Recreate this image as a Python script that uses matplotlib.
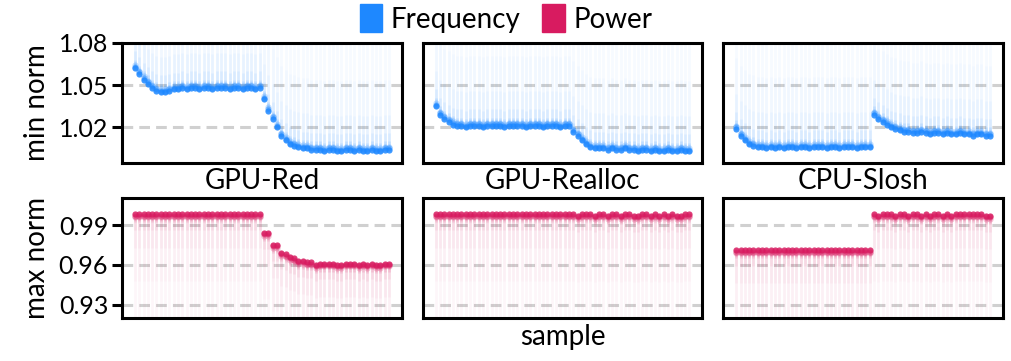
import matplotlib.pyplot as plt
import numpy as np
from matplotlib.patches import Patch

plt.rcParams['font.family'] = ['Lato', 'DejaVu Sans']

names = ['GPU-Red', 'GPU-Realloc', 'CPU-Slosh']
legend_labels = ['Frequency', 'Power']

# lower edge of the frequency band (min norm), 60 samples per run
freq_red = [1.062, 1.058, 1.054, 1.051, 1.048, 1.046, 1.045, 1.045, 1.046, 1.047,
            1.047, 1.048, 1.047, 1.048, 1.048, 1.047, 1.048, 1.048, 1.047, 1.048,
            1.048, 1.048, 1.047, 1.048, 1.048, 1.047, 1.048, 1.048, 1.047, 1.048,
            1.040, 1.032, 1.026, 1.020, 1.014, 1.011, 1.008, 1.007, 1.006, 1.005,
            1.005, 1.004, 1.004, 1.004, 1.003, 1.004, 1.004, 1.003, 1.003, 1.004,
            1.004, 1.003, 1.004, 1.003, 1.003, 1.004, 1.003, 1.003, 1.004, 1.004]
freq_realloc = [1.035, 1.029, 1.026, 1.024, 1.022, 1.021, 1.021, 1.020, 1.021, 1.021,
                1.021, 1.020, 1.021, 1.021, 1.021, 1.021, 1.020, 1.021, 1.021, 1.021,
                1.021, 1.020, 1.021, 1.021, 1.021, 1.020, 1.021, 1.021, 1.021, 1.020,
                1.021, 1.021, 1.017, 1.014, 1.011, 1.008, 1.006, 1.005, 1.005, 1.005,
                1.004, 1.005, 1.004, 1.004, 1.005, 1.004, 1.004, 1.003, 1.004, 1.004,
                1.003, 1.004, 1.003, 1.003, 1.004, 1.003, 1.003, 1.004, 1.003, 1.003]
freq_slosh = [1.019, 1.014, 1.011, 1.008, 1.007, 1.006, 1.006, 1.005, 1.006, 1.005,
              1.006, 1.005, 1.006, 1.006, 1.005, 1.006, 1.006, 1.005, 1.006, 1.006,
              1.006, 1.005, 1.006, 1.006, 1.005, 1.006, 1.006, 1.006, 1.005, 1.006,
              1.006, 1.006, 1.029, 1.026, 1.024, 1.022, 1.020, 1.019, 1.018, 1.017,
              1.017, 1.016, 1.016, 1.017, 1.016, 1.015, 1.016, 1.016, 1.015, 1.016,
              1.015, 1.015, 1.016, 1.015, 1.015, 1.014, 1.015, 1.015, 1.014, 1.014]

# upper edge of the power band (max norm)
power_red = [0.998, 0.998, 0.998, 0.998, 0.998, 0.998, 0.998, 0.998, 0.998, 0.998,
             0.998, 0.998, 0.998, 0.998, 0.998, 0.998, 0.998, 0.998, 0.998, 0.998,
             0.998, 0.998, 0.998, 0.998, 0.998, 0.998, 0.998, 0.998, 0.998, 0.998,
             0.984, 0.984, 0.975, 0.975, 0.969, 0.968, 0.966, 0.965, 0.963, 0.963,
             0.962, 0.962, 0.960, 0.961, 0.961, 0.961, 0.961, 0.960, 0.960, 0.961,
             0.961, 0.961, 0.960, 0.961, 0.960, 0.961, 0.960, 0.960, 0.961, 0.961]
power_realloc = [0.998, 0.998, 0.998, 0.998, 0.998, 0.998, 0.998, 0.998, 0.998, 0.998,
                 0.998, 0.998, 0.998, 0.998, 0.998, 0.998, 0.998, 0.998, 0.998, 0.998,
                 0.998, 0.998, 0.998, 0.998, 0.998, 0.998, 0.998, 0.998, 0.998, 0.998,
                 0.998, 0.998, 0.998, 0.997, 0.998, 0.998, 0.998, 0.997, 0.998, 0.998,
                 0.997, 0.998, 0.998, 0.997, 0.998, 0.998, 0.997, 0.997, 0.998, 0.998,
                 0.997, 0.998, 0.997, 0.998, 0.997, 0.998, 0.997, 0.997, 0.998, 0.998]
power_slosh = [0.971, 0.971, 0.971, 0.971, 0.971, 0.971, 0.971, 0.971, 0.971, 0.971,
               0.971, 0.971, 0.971, 0.971, 0.971, 0.971, 0.971, 0.971, 0.971, 0.971,
               0.971, 0.971, 0.971, 0.971, 0.971, 0.971, 0.971, 0.971, 0.971, 0.971,
               0.971, 0.971, 0.998, 0.997, 0.998, 0.998, 0.998, 0.997, 0.998, 0.998,
               0.997, 0.998, 0.998, 0.997, 0.998, 0.997, 0.998, 0.998, 0.997, 0.998,
               0.997, 0.998, 0.998, 0.998, 0.998, 0.998, 0.998, 0.998, 0.997, 0.997]

freq_all = [freq_red, freq_realloc, freq_slosh]
power_all = [power_red, power_realloc, power_slosh]

BLUE = '#1E88FF'
RED = '#D81B60'
# faint tail above/below the edge: (span, alpha) layers
FADE_SPANS = [0.1, 0.05, 0.025, 0.012, 0.006]
FADE_ALPHAS = [0.035, 0.025, 0.04, 0.07, 0.13]

fig, axes = plt.subplots(2, 3, figsize=(10.12, 3.61), dpi=100)
plt.subplots_adjust(left=0.1206, right=0.9911, top=0.8809, bottom=0.1191,
                    wspace=0.075, hspace=0.30)


def draw_band(ax, vals, color, sign):
    x = np.arange(len(vals))
    y = np.array(vals)
    for span, a in zip(FADE_SPANS, FADE_ALPHAS):
        ax.vlines(x, y, y + sign * span, color=color, alpha=a, lw=2.0, zorder=2)
    ax.scatter(x, y + sign * 0.0022, s=20, color=color, alpha=0.25, lw=0, zorder=3)
    ax.scatter(x, y + sign * 0.0011, s=20, color=color, alpha=0.45, lw=0, zorder=3)
    ax.scatter(x, y, s=20, color=color, alpha=0.85, lw=0, zorder=3)


for j in range(3):
    top = axes[0, j]
    bot = axes[1, j]
    draw_band(top, freq_all[j], BLUE, 1)
    draw_band(bot, power_all[j], RED, -1)
    top.set_ylim(0.995, 1.08)
    top.set_yticks([1.02, 1.05, 1.08])
    bot.set_ylim(0.92, 1.01)
    bot.set_yticks([0.93, 0.96, 0.99])
    top.set_xlabel(names[j], fontsize=20, labelpad=4)
    for ax in (top, bot):
        ax.set_xlim(-3, 62)
        ax.set_xticks([])
        ax.set_axisbelow(True)
        ax.yaxis.grid(True, linestyle=(0, (3.5, 2)), linewidth=2.2, color='#d0d0d0')
        for s in ax.spines.values():
            s.set_linewidth(2.2)
        ax.tick_params(axis='y', length=7, width=2.2, labelsize=18, pad=3)
        if j > 0:
            ax.tick_params(axis='y', left=False, labelleft=False)

axes[0, 0].set_ylabel('min norm', fontsize=20, labelpad=6)
axes[1, 0].set_ylabel('max norm', fontsize=20, labelpad=6)
axes[1, 1].set_xlabel('sample', fontsize=20, labelpad=4)

handles = [Patch(color=BLUE), Patch(color=RED)]
fig.legend(handles, legend_labels, loc='upper center', bbox_to_anchor=(0.5, 1.02),
           ncol=2, frameon=False, fontsize=20, handlelength=0.8, handleheight=1.2,
           handletextpad=0.3, columnspacing=0.8, borderaxespad=0)

fig.savefig('out.png', dpi=100)
